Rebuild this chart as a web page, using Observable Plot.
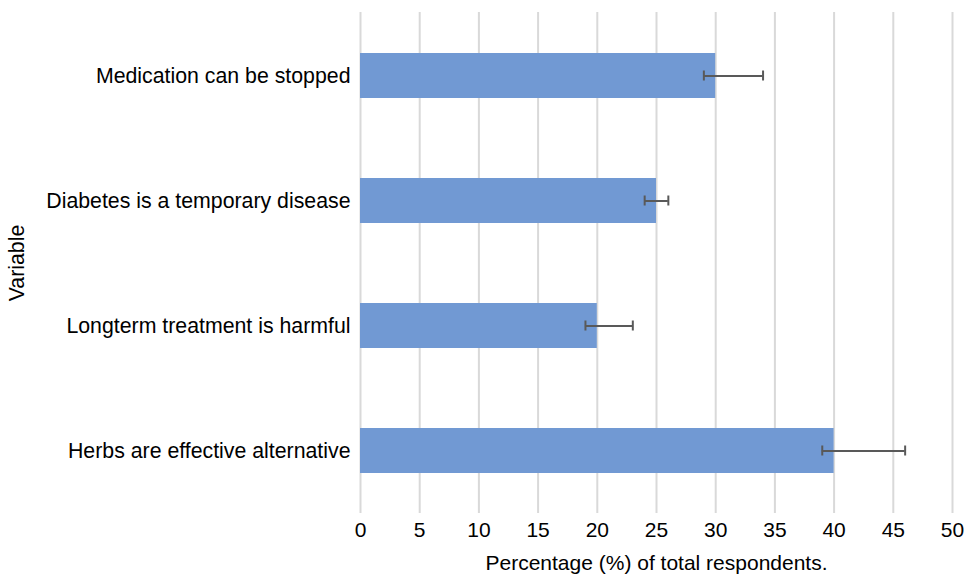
<!DOCTYPE html>
<html>
<head>
<meta charset="utf-8">
<script src="https://cdn.jsdelivr.net/npm/d3@7"></script>
<script src="https://cdn.jsdelivr.net/npm/@observablehq/plot@0.6"></script>
<style>
  html, body { margin: 0; padding: 0; background: #fff; }
  #chart { width: 965px; height: 574px; }
</style>
</head>
<body>
<div id="chart"></div>
<script>
const categories = ["Medication can be stopped", "Diabetes is a temporary disease", "Longterm treatment is harmful", "Herbs are effective alternative"];
const values = [30, 25, 20, 40];
const errLow = [29, 24, 19, 39];
const errHigh = [34, 26, 23, 46];
const xTicks = [0, 5, 10, 15, 20, 25, 30, 35, 40, 45, 50];

const data = categories.map((c, i) => ({cat: c, value: values[i], lo: errLow[i], hi: errHigh[i]}));
const caps = data.flatMap(d => [{cat: d.cat, x: d.lo}, {cat: d.cat, x: d.hi}]);

const chart = Plot.plot({
  width: 965,
  height: 574,
  marginLeft: 360,
  marginRight: 13,
  marginTop: 12,
  marginBottom: 61,
  style: {fontFamily: "Liberation Sans, Arial, sans-serif", fontSize: "21px", color: "#000", background: "#fff"},
  x: {domain: [0, 50], ticks: xTicks, tickSize: 0, tickPadding: 9, label: null},
  y: {domain: categories, paddingInner: 0.64, paddingOuter: 0.32, tickSize: 0, tickPadding: 10, label: null},
  marks: [
    Plot.ruleX(xTicks, {x: d => d, stroke: "#d9d9d9", strokeWidth: 2, strokeOpacity: 1}),
    Plot.barX(data, {x: "value", y: "cat", fill: "#7199d3"}),
    Plot.ruleY(data, {y: "cat", x1: "lo", x2: "hi", stroke: "#595959", strokeWidth: 2}),
    Plot.tickX(caps, {x: "x", y: "cat", stroke: "#595959", strokeWidth: 2, insetTop: 17.5, insetBottom: 17.5}),
    Plot.axisX({ticks: xTicks, tickSize: 0, tickPadding: 9, fontSize: 21, label: "Percentage (%) of total respondents.", labelAnchor: "center", labelArrow: "none", labelOffset: 56}),
    Plot.axisY({tickSize: 0, tickPadding: 10, fontSize: 21.3, label: "Variable", labelAnchor: "center", labelArrow: "none", labelOffset: 352})
  ]
});
document.getElementById("chart").appendChild(chart);
</script>
</body>
</html>
